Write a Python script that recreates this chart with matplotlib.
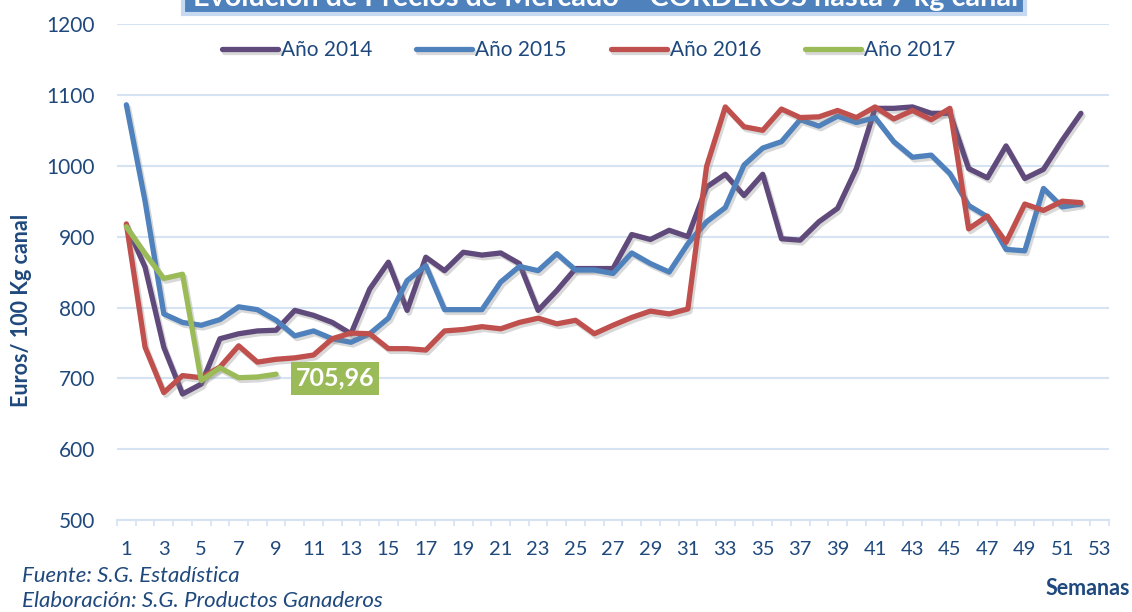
import matplotlib
matplotlib.use('Agg')
import matplotlib.pyplot as plt
import matplotlib.patches as mpatches
import matplotlib.patheffects as pe
from matplotlib.ticker import MultipleLocator, FixedLocator

plt.rcParams['font.family'] = ['Lato', 'DejaVu Sans']

# Weekly market prices (euros / 100 kg canal)
weeks = list(range(1, 53))
y2014 = [916, 857, 744, 678, 692, 756, 763, 767, 768, 796,
         789, 779, 763, 826, 864, 796, 871,
         852, 878, 874, 877, 862, 796, 824, 855, 855, 855, 903, 896, 909, 900,
         970, 988, 958, 988, 897, 895, 921, 940, 996, 1081, 1081, 1083, 1074, 1074,
         996, 983, 1028, 982, 995, 1036, 1074]
y2015 = [1086, 950, 791, 779, 775, 783, 801, 797, 782, 760,
         767, 756, 751, 763, 785, 838, 859,
         797, 797, 797, 836, 858, 852, 876, 853, 853, 848, 877, 862, 850, 890,
         921, 941, 1001, 1025, 1034, 1065, 1056, 1070, 1061, 1068, 1034, 1012, 1015, 989,
         944, 928, 882, 880, 968, 942, 946]
y2016 = [918, 744, 680, 704, 701, 716, 746, 723, 727, 729,
         733, 756, 764, 763, 742, 742, 740,
         767, 769, 773, 770, 779, 785, 777, 782, 763, 775, 786, 795, 791, 798,
         999, 1083, 1055, 1050, 1080, 1068, 1069, 1078, 1068, 1083, 1066, 1078, 1065, 1081,
         911, 929, 892, 946, 937, 950, 948]
y2017 = [914, 876, 841, 847, 697, 715, 701, 702, 705.96]

series = [('Año 2014', y2014, '#604a7b'),
          ('Año 2015', y2015, '#4f81bd'),
          ('Año 2016', y2016, '#c0504d'),
          ('Año 2017', y2017, '#9bbb59')]

txt_col = '#1f497d'
grid_col = '#d6e3f3'

fig = plt.figure(figsize=(11.32, 6.12), dpi=100)
ax = fig.add_axes([117 / 1132, 0.150, 992 / 1132, 0.8108])

shadow = [pe.SimpleLineShadow(offset=(1.5, -2), shadow_color='#808080', alpha=0.3), pe.Normal()]
for label, vals, col in series:
    ax.plot(weeks[:len(vals)], vals, color=col, lw=3.8, label=label,
            solid_capstyle='round', solid_joinstyle='round', path_effects=shadow)

ax.set_xlim(0.5, 53.5)
ax.set_ylim(500, 1200)
ax.yaxis.set_major_locator(MultipleLocator(100))
ax.xaxis.set_major_locator(FixedLocator(list(range(1, 54, 2))))
ax.xaxis.set_minor_locator(FixedLocator([w + 0.5 for w in range(0, 54)]))
ax.grid(axis='y', color=grid_col, lw=1.5)
ax.set_axisbelow(True)
for s in ['top', 'right', 'left']:
    ax.spines[s].set_visible(False)
ax.spines['bottom'].set_color(grid_col)
ax.spines['bottom'].set_linewidth(1.5)
ax.tick_params(axis='y', length=0, pad=16, labelsize=15, labelcolor=txt_col)
ax.tick_params(axis='x', which='major', length=0, pad=15, labelsize=14.5, labelcolor=txt_col)
ax.tick_params(axis='x', which='minor', length=4.3, width=1.2, color=grid_col)

# last value label
ax.annotate('705,96', xy=(9, y2017[-1]), xytext=(14, -3), textcoords='offset points',
            ha='left', va='center', color='white', fontsize=18, fontweight='bold',
            bbox=dict(boxstyle='square,pad=0.2', fc='#9bbb59', ec='none'), zorder=10)

fig.legend(loc='center', bbox_to_anchor=(0.52, 0.918), ncol=4, frameon=False,
           fontsize=15, labelcolor=txt_col, handlelength=2.7, handletextpad=0.15,
           columnspacing=2.1)

# title box, cut by the top edge
fig.patches.append(mpatches.Rectangle((183 / 1132, 1 - 14 / 612), 842 / 1132, 30 / 612,
                                      transform=fig.transFigure, fc='#4f81bd',
                                      ec='#c6d9f0', lw=3, zorder=1))
fig.text(606 / 1132, 1 - 6 / 612, 'Evolución de Precios de Mercado – CORDEROS hasta 7 kg canal',
         ha='center', va='baseline', color='white', fontsize=20.7, fontweight='bold', zorder=2)

fig.text(22 / 1132, 0.493, 'Euros/ 100 Kg canal', rotation=90, ha='center', va='center',
         color=txt_col, fontsize=15.5, fontweight='bold')
fig.text(1130 / 1132, 1 - 595 / 612, 'Semanas', ha='right', va='baseline',
         color=txt_col, fontsize=15.5, fontweight='bold')
fig.text(22 / 1132, 1 - 582 / 612, 'Fuente: S.G. Estadística', ha='left', va='baseline',
         color=txt_col, fontsize=16, fontstyle='italic')
fig.text(22 / 1132, 1 - 607 / 612, 'Elaboración: S.G. Productos Ganaderos', ha='left',
         va='baseline', color=txt_col, fontsize=16, fontstyle='italic')

fig.savefig('out.png', dpi=100)
